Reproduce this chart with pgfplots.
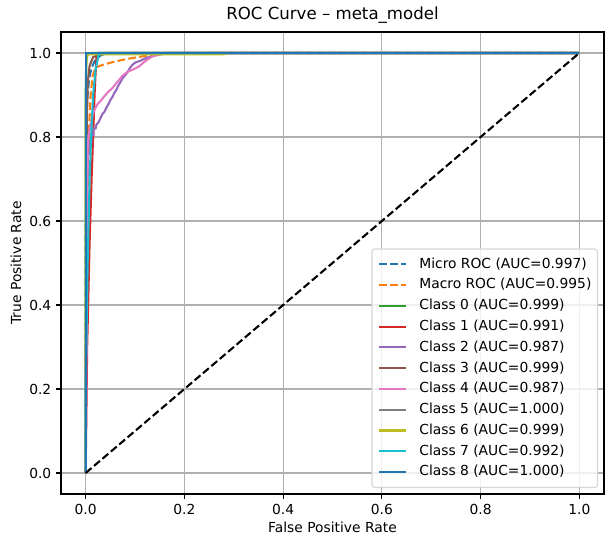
\documentclass[border=0pt]{standalone}
\usepackage{fontspec}
\setmainfont{DejaVu Sans}
\usepackage{pgfplots}
\pgfplotsset{compat=1.18}

\definecolor{tabblue}{HTML}{1F77B4}
\definecolor{taborange}{HTML}{FF7F0E}
\definecolor{tabgreen}{HTML}{2CA02C}
\definecolor{tabred}{HTML}{D62728}
\definecolor{tabpurple}{HTML}{9467BD}
\definecolor{tabbrown}{HTML}{8C564B}
\definecolor{tabpink}{HTML}{E377C2}
\definecolor{tabgray}{HTML}{7F7F7F}
\definecolor{tabolive}{HTML}{BCBD22}
\definecolor{tabcyan}{HTML}{17BECF}
\definecolor{gridgray}{HTML}{B0B0B0}
\definecolor{legframe}{HTML}{D6D6D6}

\begin{document}
\begin{tikzpicture}
\begin{axis}[
  name=ax,
  scale only axis,
  width=5.43in, height=4.62in,
  xmin=-0.05, xmax=1.05, ymin=-0.05, ymax=1.05,
  xtick={0,0.2,0.4,0.6,0.8,1.0},
  ytick={0,0.2,0.4,0.6,0.8,1.0},
  xtick pos=bottom, ytick pos=left,
  tick align=outside,
  major tick length=3.5pt,
  every tick/.style={black, line width=0.8pt},
  axis line style={line width=0.8pt},
  grid=major,
  major grid style={color=gridgray, line width=0.8pt},
  font=\fontsize{10}{12}\selectfont,
  tick label style={font=\fontsize{10}{12}\selectfont},
  /pgf/number format/assume math mode=true,
  xticklabel style={/pgf/number format/.cd, fixed, fixed zerofill, precision=1},
  yticklabel style={/pgf/number format/.cd, fixed, fixed zerofill, precision=1},
  every axis plot/.append style={line width=1.5pt},
  legend image code/.code={\draw[#1, draw opacity=1] (0in,0in) -- (0.273in,0in);},
  legend cell align=left,
  legend style={
    at={(1,0)}, anchor=south east,
    xshift=-0.06in, yshift=0.06in,
    draw=legframe, line width=0.8pt, rounded corners=2pt,
    fill=white, fill opacity=0.8, text opacity=1,
    inner xsep=0.06in, inner ysep=0.05in,
    row sep=0pt, column sep=0.12in,
    font=\fontsize{10}{12}\selectfont,
    nodes={inner sep=0pt, text height=8pt, text depth=2.5pt, minimum height=0.2077in},
  },
  dashpat/.style={dash pattern=on 5.55pt off 2.4pt},
]
% micro-averaged ROC
\addplot[tabblue, dashpat] coordinates {
 (0,0) (0,0.55) (0.001,0.80) (0.002,0.87) (0.004,0.90) (0.007,0.94) (0.010,0.955)
 (0.014,0.97) (0.018,0.98) (0.024,0.988) (0.030,0.994) (0.036,0.997) (0.05,0.999) (0.1,1) (1,1)};
\addlegendentry{Micro ROC (AUC=0.997)}
% macro-averaged ROC
\addplot[taborange, dashpat] coordinates {
 (0,0) (0.001,0.3) (0.003,0.6) (0.005,0.75) (0.007,0.82) (0.010,0.90) (0.014,0.945)
 (0.020,0.965) (0.03,0.970) (0.05,0.977) (0.08,0.985) (0.1,0.989) (0.12,0.993) (0.16,0.998) (0.25,1) (1,1)};
\addlegendentry{Macro ROC (AUC=0.995)}
% class 0
\addplot[tabgreen] coordinates {
 (0,0) (0,0.90) (0.001,0.98) (0.003,0.995) (0.01,1) (1,1)};
\addlegendentry{Class 0 (AUC=0.999)}
% class 1
\addplot[tabred] coordinates {
 (0,0) (0.003,0.30) (0.008,0.55) (0.012,0.70) (0.015,0.80) (0.018,0.90)
 (0.020,0.95) (0.022,0.99) (0.025,1) (1,1)};
\addlegendentry{Class 1 (AUC=0.991)}
% class 2
\addplot[tabpurple] coordinates {
 (0,0) (0,0.30) (0.001,0.30) (0.001,0.55) (0.002,0.55) (0.002,0.70) (0.004,0.70)
 (0.004,0.76) (0.008,0.76) (0.008,0.79) (0.012,0.79) (0.012,0.805) (0.016,0.805)
 (0.016,0.82) (0.02,0.82) (0.022,0.83) (0.026,0.835) (0.03,0.845) (0.034,0.855)
 (0.038,0.86) (0.042,0.87) (0.046,0.878) (0.05,0.888) (0.054,0.895) (0.058,0.905)
 (0.062,0.912) (0.066,0.922) (0.07,0.93) (0.075,0.94) (0.08,0.947) (0.085,0.955)
 (0.09,0.965) (0.095,0.972) (0.1,0.977) (0.105,0.979) (0.11,0.981) (0.115,0.984)
 (0.12,0.987) (0.128,0.99) (0.135,0.992) (0.14,0.994) (0.148,0.996) (0.155,0.998)
 (0.165,1) (1,1)};
\addlegendentry{Class 2 (AUC=0.987)}
% class 3
\addplot[tabbrown] coordinates {
 (0,0) (0.001,0.5) (0.002,0.8) (0.004,0.93) (0.008,0.97) (0.015,0.99)
 (0.025,0.995) (0.04,1) (1,1)};
\addlegendentry{Class 3 (AUC=0.999)}
% class 4
\addplot[tabpink] coordinates {
 (0,0) (0.002,0.35) (0.003,0.6) (0.004,0.78) (0.006,0.80) (0.008,0.82) (0.01,0.83)
 (0.013,0.845) (0.016,0.86) (0.02,0.87) (0.025,0.88) (0.03,0.885) (0.035,0.893)
 (0.04,0.90) (0.047,0.909) (0.053,0.915) (0.06,0.925) (0.067,0.935) (0.074,0.945)
 (0.081,0.952) (0.088,0.957) (0.095,0.96) (0.1,0.963) (0.108,0.968) (0.115,0.975)
 (0.12,0.98) (0.127,0.986) (0.135,0.992) (0.145,0.995) (0.155,0.998) (0.17,1) (1,1)};
\addlegendentry{Class 4 (AUC=0.987)}
% class 5
\addplot[tabgray] coordinates {(0,0) (0,1) (1,1)};
\addlegendentry{Class 5 (AUC=1.000)}
% class 6
\addplot[tabolive] coordinates {
 (0,0) (0,0.85) (0.001,0.95) (0.002,0.99) (0.005,0.997) (0.28,0.997) (0.29,1) (1,1)};
\addlegendentry{Class 6 (AUC=0.999)}
% class 7
\addplot[tabcyan] coordinates {
 (0,0) (0,0.2) (0.004,0.5) (0.008,0.7) (0.011,0.8) (0.015,0.9) (0.02,0.96) (0.027,1) (1,1)};
\addlegendentry{Class 7 (AUC=0.992)}
% class 8
\addplot[tabblue] coordinates {(0,0) (0,1) (1,1)};
\addlegendentry{Class 8 (AUC=1.000)}
% chance level
\addplot[black, dashpat, forget plot] coordinates {(0,0) (1,1)};
\end{axis}
\node[anchor=base, font=\fontsize{12}{14}\selectfont] at ([yshift=0.12in]ax.north) {ROC Curve – meta\_model};
\node[anchor=base, font=\fontsize{10}{12}\selectfont] at ([yshift=-0.38in]ax.south) {False Positive Rate};
\node[anchor=base, rotate=90, font=\fontsize{10}{12}\selectfont] at ([xshift=-0.40in]ax.west) {True Positive Rate};
\path[use as bounding box] (-0.61in,-0.53in) rectangle (5.52in,4.94in);
\end{tikzpicture}
\end{document}
